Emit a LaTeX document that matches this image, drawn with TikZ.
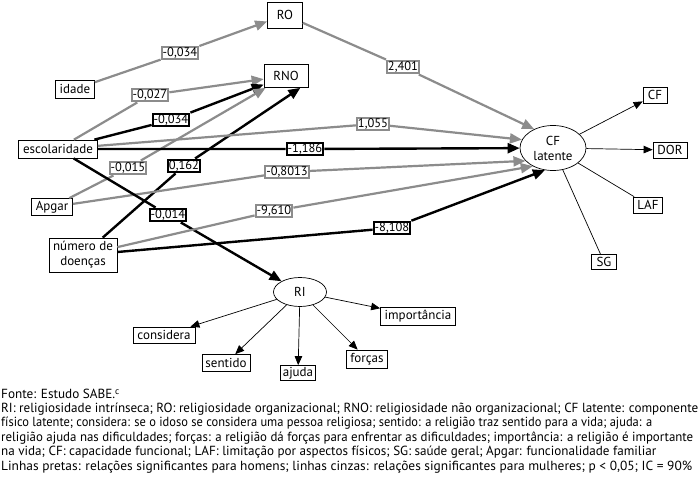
\documentclass[tikz,border=0pt]{standalone}
\usepackage{fontspec}
\usepackage{graphicx}
\setmainfont{PT Sans}
\usetikzlibrary{arrows.meta,shapes.geometric}
\definecolor{edgegray}{RGB}{140,140,140}
\newcommand{\nodefnt}{\fontsize{13}{14}\selectfont}
\newcommand{\twofnt}{\fontsize{13}{15}\selectfont}
\newcommand{\labfnt}{\fontsize{12.5}{13}\selectfont}
\newcommand{\capfnt}{\fontsize{13.2}{15}\selectfont}
\newcommand{\capfit}[2]{\resizebox{#1}{\height}{#2}}
\begin{document}
\begin{tikzpicture}[x=1pt,y=-1pt,
  nbox/.style={draw, line width=0.7pt, fill=white, inner sep=1pt, font=\nodefnt},
  gbox/.style={draw=edgegray, line width=2.2pt, fill=white, inner sep=1pt, font=\labfnt},
  bbox/.style={draw=black, line width=2.2pt, fill=white, inner sep=1pt, font=\labfnt},
  ell/.style={draw, ellipse, line width=0.7pt, inner sep=0pt, font=\nodefnt, align=center},
  gedge/.style={draw=edgegray, line width=2.2pt, -{Triangle[length=12pt,width=10pt]}},
  bedge/.style={draw=black, line width=2.4pt, -{Triangle[length=12pt,width=10pt]}},
  tedge/.style={draw, line width=0.7pt, -{Triangle[length=9pt,width=7.5pt]}},
  tline/.style={draw, line width=0.7pt},
  capline/.style={anchor=west, inner sep=0pt, font=\capfnt}
]
\useasboundingbox (0,0) rectangle (700,481);
\fill[white] (0,0) rectangle (700,481);

% main nodes
\node[nbox, minimum width=35pt, minimum height=26pt] (ro) at (285,15) {RO};
\node[nbox, minimum width=44pt, minimum height=23pt] (rno) at (286,76) {RNO};
\node[nbox, minimum width=39pt, minimum height=18pt] (idade) at (75,89) {idade};
\node[nbox, minimum width=79pt, minimum height=18pt] (esc) at (58,149) {escolaridade};
\node[nbox, minimum width=41pt, minimum height=17pt] (apgar) at (52,207) {Apgar};
\node[nbox, minimum width=68pt, minimum height=34pt, align=center, font=\twofnt] (nd) at (83,255) {número de\\doenças};
\node[ell, minimum width=66pt, minimum height=45pt, font=\twofnt] (cfl) at (553,148) {CF\\latente};
\node[nbox, minimum width=24pt, minimum height=16pt] (cf) at (655,95) {CF};
\node[nbox, minimum width=34pt, minimum height=16pt] (dor) at (670,150) {DOR};
\node[nbox, minimum width=29pt, minimum height=16pt] (laf) at (648,205) {LAF};
\node[nbox, minimum width=25pt, minimum height=15pt] (sg) at (604,262) {SG};
\node[ell, minimum width=53pt, minimum height=29pt] (ri) at (300,292) {RI};
\node[nbox, minimum width=62pt, minimum height=16pt] (cons) at (164,335) {considera};
\node[nbox, minimum width=48pt, minimum height=17pt] (sent) at (226,363) {sentido};
\node[nbox, minimum width=35pt, minimum height=15pt] (ajuda) at (298,373) {ajuda};
\node[nbox, minimum width=41pt, minimum height=18pt] (forcas) at (367,359) {forças};
\node[nbox, minimum width=75pt, minimum height=18pt] (imp) at (418,316) {importância};

% coefficient labels
\node[gbox] (l1) at (180,53) {-0,034};
\node[gbox] (l2) at (150,95) {-0,027};
\node[bbox] (l3) at (171,120) {-0,034};
\node[gbox] (l4) at (128,168) {-0,015};
\node[bbox] (l5) at (184,166) {0,162};
\node[bbox] (l6) at (305,149) {-1,186};
\node[gbox] (l7) at (287,172) {-0,8013};
\node[bbox] (l8) at (168,215) {-0,014};
\node[gbox] (l9) at (274,211) {-9,610};
\node[gbox] (l10) at (373,124) {1,055};
\node[bbox] (l11) at (392,228) {-8,108};
\node[gbox] (l12) at (403,67) {2,401};

% structural edges
\draw[gedge] (idade) -- (l1) -- (ro);
\draw[gedge] (esc) -- (l2) -- (rno);
\draw[bedge] (esc) -- (l3) -- (rno);
\draw[gedge] (apgar) -- (l4) -- (rno);
\draw[bedge] (nd) -- (l5) -- ([xshift=-8pt]rno.south east);
\draw[bedge] (esc) -- (l6) -- (cfl);
\draw[gedge] (apgar) -- (l7) -- (cfl.205);
\draw[bedge] (esc) -- (l8) -- (ri);
\draw[gedge] (nd) -- (l9) -- (cfl.222);
\draw[gedge] (esc) -- (l10) -- (cfl.165);
\draw[bedge] (nd) -- (l11) -- (cfl.250);
\draw[gedge] (ro) -- (l12) -- (cfl.135);

% measurement edges
\draw[tedge] (cfl) -- (cf);
\draw[tedge] (cfl) -- (dor);
\draw[tline] (cfl) -- (laf);
\draw[tline] (cfl) -- (sg);
\draw[tedge] (ri) -- (cons);
\draw[tedge] (ri) -- (sent);
\draw[tedge] (ri) -- (ajuda);
\draw[tedge] (ri) -- (forcas);
\draw[tedge] (ri) -- (imp);

% caption
\node[capline] (c1) at (1,394) {Fonte: Estudo SABE.\textsuperscript{c}};
\node[capline] (c2) at (1,409) {\capfit{697pt}{RI: religiosidade intrínseca; RO: religiosidade organizacional; RNO: religiosidade não organizacional; CF latente: componente}};
\node[capline] (c3) at (1,423.5) {\capfit{651pt}{físico latente; considera: se o idoso se considera uma pessoa religiosa; sentido: a religião traz sentido para a vida; ajuda: a}};
\node[capline] (c4) at (1,438) {\capfit{692pt}{religião ajuda nas dificuldades; forças: a religião dá forças para enfrentar as dificuldades; importância: a religião é importante}};
\node[capline] (c5) at (1,452.5) {\capfit{655pt}{na vida; CF: capacidade funcional; LAF: limitação por aspectos físicos; SG: saúde geral; Apgar: funcionalidade familiar}};
\node[capline] (c6) at (1,467) {\capfit{691pt}{Linhas pretas: relações significantes para homens; linhas cinzas: relações significantes para mulheres; p < 0,05; IC = 90\%}};
\end{tikzpicture}
\end{document}
